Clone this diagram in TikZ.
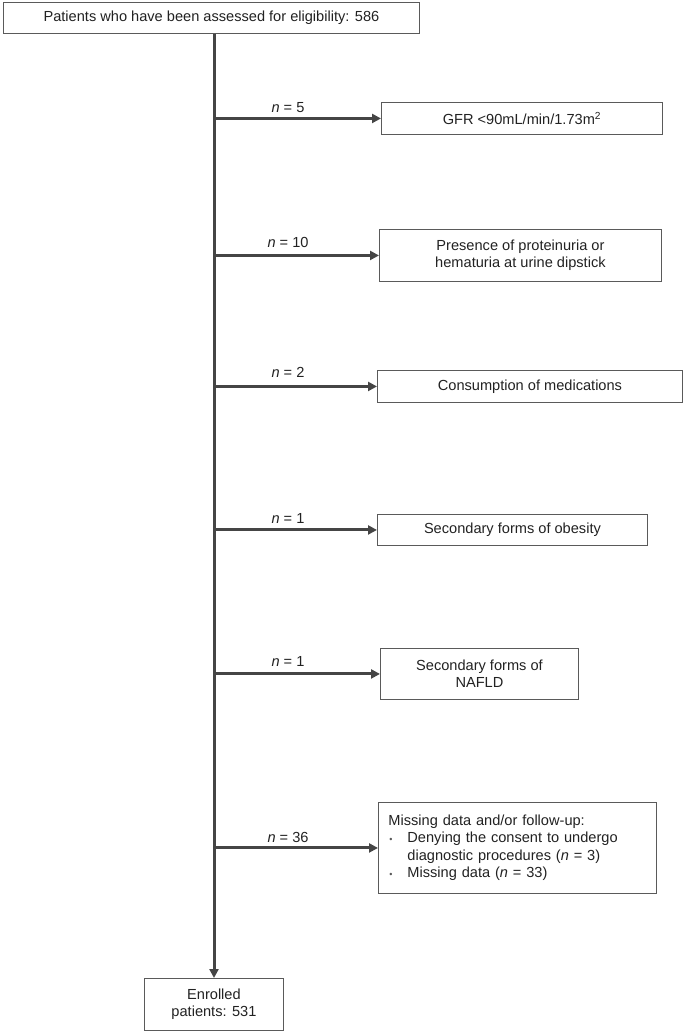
\documentclass[tikz,border=0pt]{standalone}
\usepackage{fontspec}
\setmainfont{Liberation Sans}
\usetikzlibrary{arrows.meta}
\definecolor{linec}{HTML}{454545}
\definecolor{boxc}{HTML}{5A5A5A}
\definecolor{txtc}{HTML}{222222}
\tikzset{
  box/.style={draw=boxc, line width=0.9pt, fill=white, anchor=north west, inner sep=0pt,
    text=txtc, align=center, font=\fontsize{14.6}{17.5}\selectfont},
  arr/.style={draw=linec, line width=3pt, -{Triangle[length=9pt,width=9pt]}},
  lab/.style={text=txtc, font=\fontsize{14.6}{17}\selectfont, inner sep=0pt}
}
\newcommand{\nn}{\textit{n}}
\newcommand{\bul}{\makebox[19pt][l]{\hspace*{1pt}\textcolor{boxc}{\fontsize{9}{9}\selectfont\textbullet}}}
\begin{document}
\begin{tikzpicture}[x=1pt,y=-1pt]
\useasboundingbox (0,0) rectangle (685,1032);
\node[box, minimum width=416pt, minimum height=31pt] (top) at (3,2) {Patients who have been assessed for eligibility: 586};
\node[box, minimum width=281pt, minimum height=32pt] (b1) at (381,102) {GFR <90mL/min/1.73m\textsuperscript{2}};
\node[box, minimum width=282pt, minimum height=52pt] (b2) at (379,229) {Presence of proteinuria or\\hematuria at urine dipstick};
\node[box, minimum width=305pt, minimum height=32pt] (b3) at (377,370) {Consumption of medications};
\node[box, minimum width=270pt, minimum height=31pt] (b4) at (377,514) {Secondary forms of obesity};
\node[box, minimum width=198pt, minimum height=51pt] (b5) at (380,648) {Secondary forms of\\NAFLD};
\node[box, minimum width=277pt, minimum height=91pt, align=left, text width=258pt, inner xsep=10pt] (b6) at (378,802)
  {Missing data and/or follow-up:\\
   \bul Denying the consent to undergo\\
   \hspace*{19pt}diagnostic procedures (\nn{} = 3)\\
   \bul Missing data (\nn{} = 33)};
\node[box, minimum width=139pt, minimum height=52pt] (enr) at (144,978) {Enrolled\\patients: 531};
\coordinate (v) at (214,33);
\draw[arr] (top.south -| v) -- (enr.north -| v);
\foreach \b in {b1,b2,b3,b4,b5,b6} {
  \draw[arr] (\b.west -| v) -- (\b.west);
}
\node[lab] (l1) at (288,108) {\nn{} = 5};
\node[lab] (l2) at (288,242) {\nn{} = 10};
\node[lab] (l3) at (288,372) {\nn{} = 2};
\node[lab] (l4) at (288,518) {\nn{} = 1};
\node[lab] (l5) at (288,661) {\nn{} = 1};
\node[lab] (l6) at (288,837) {\nn{} = 36};
\end{tikzpicture}
\end{document}
